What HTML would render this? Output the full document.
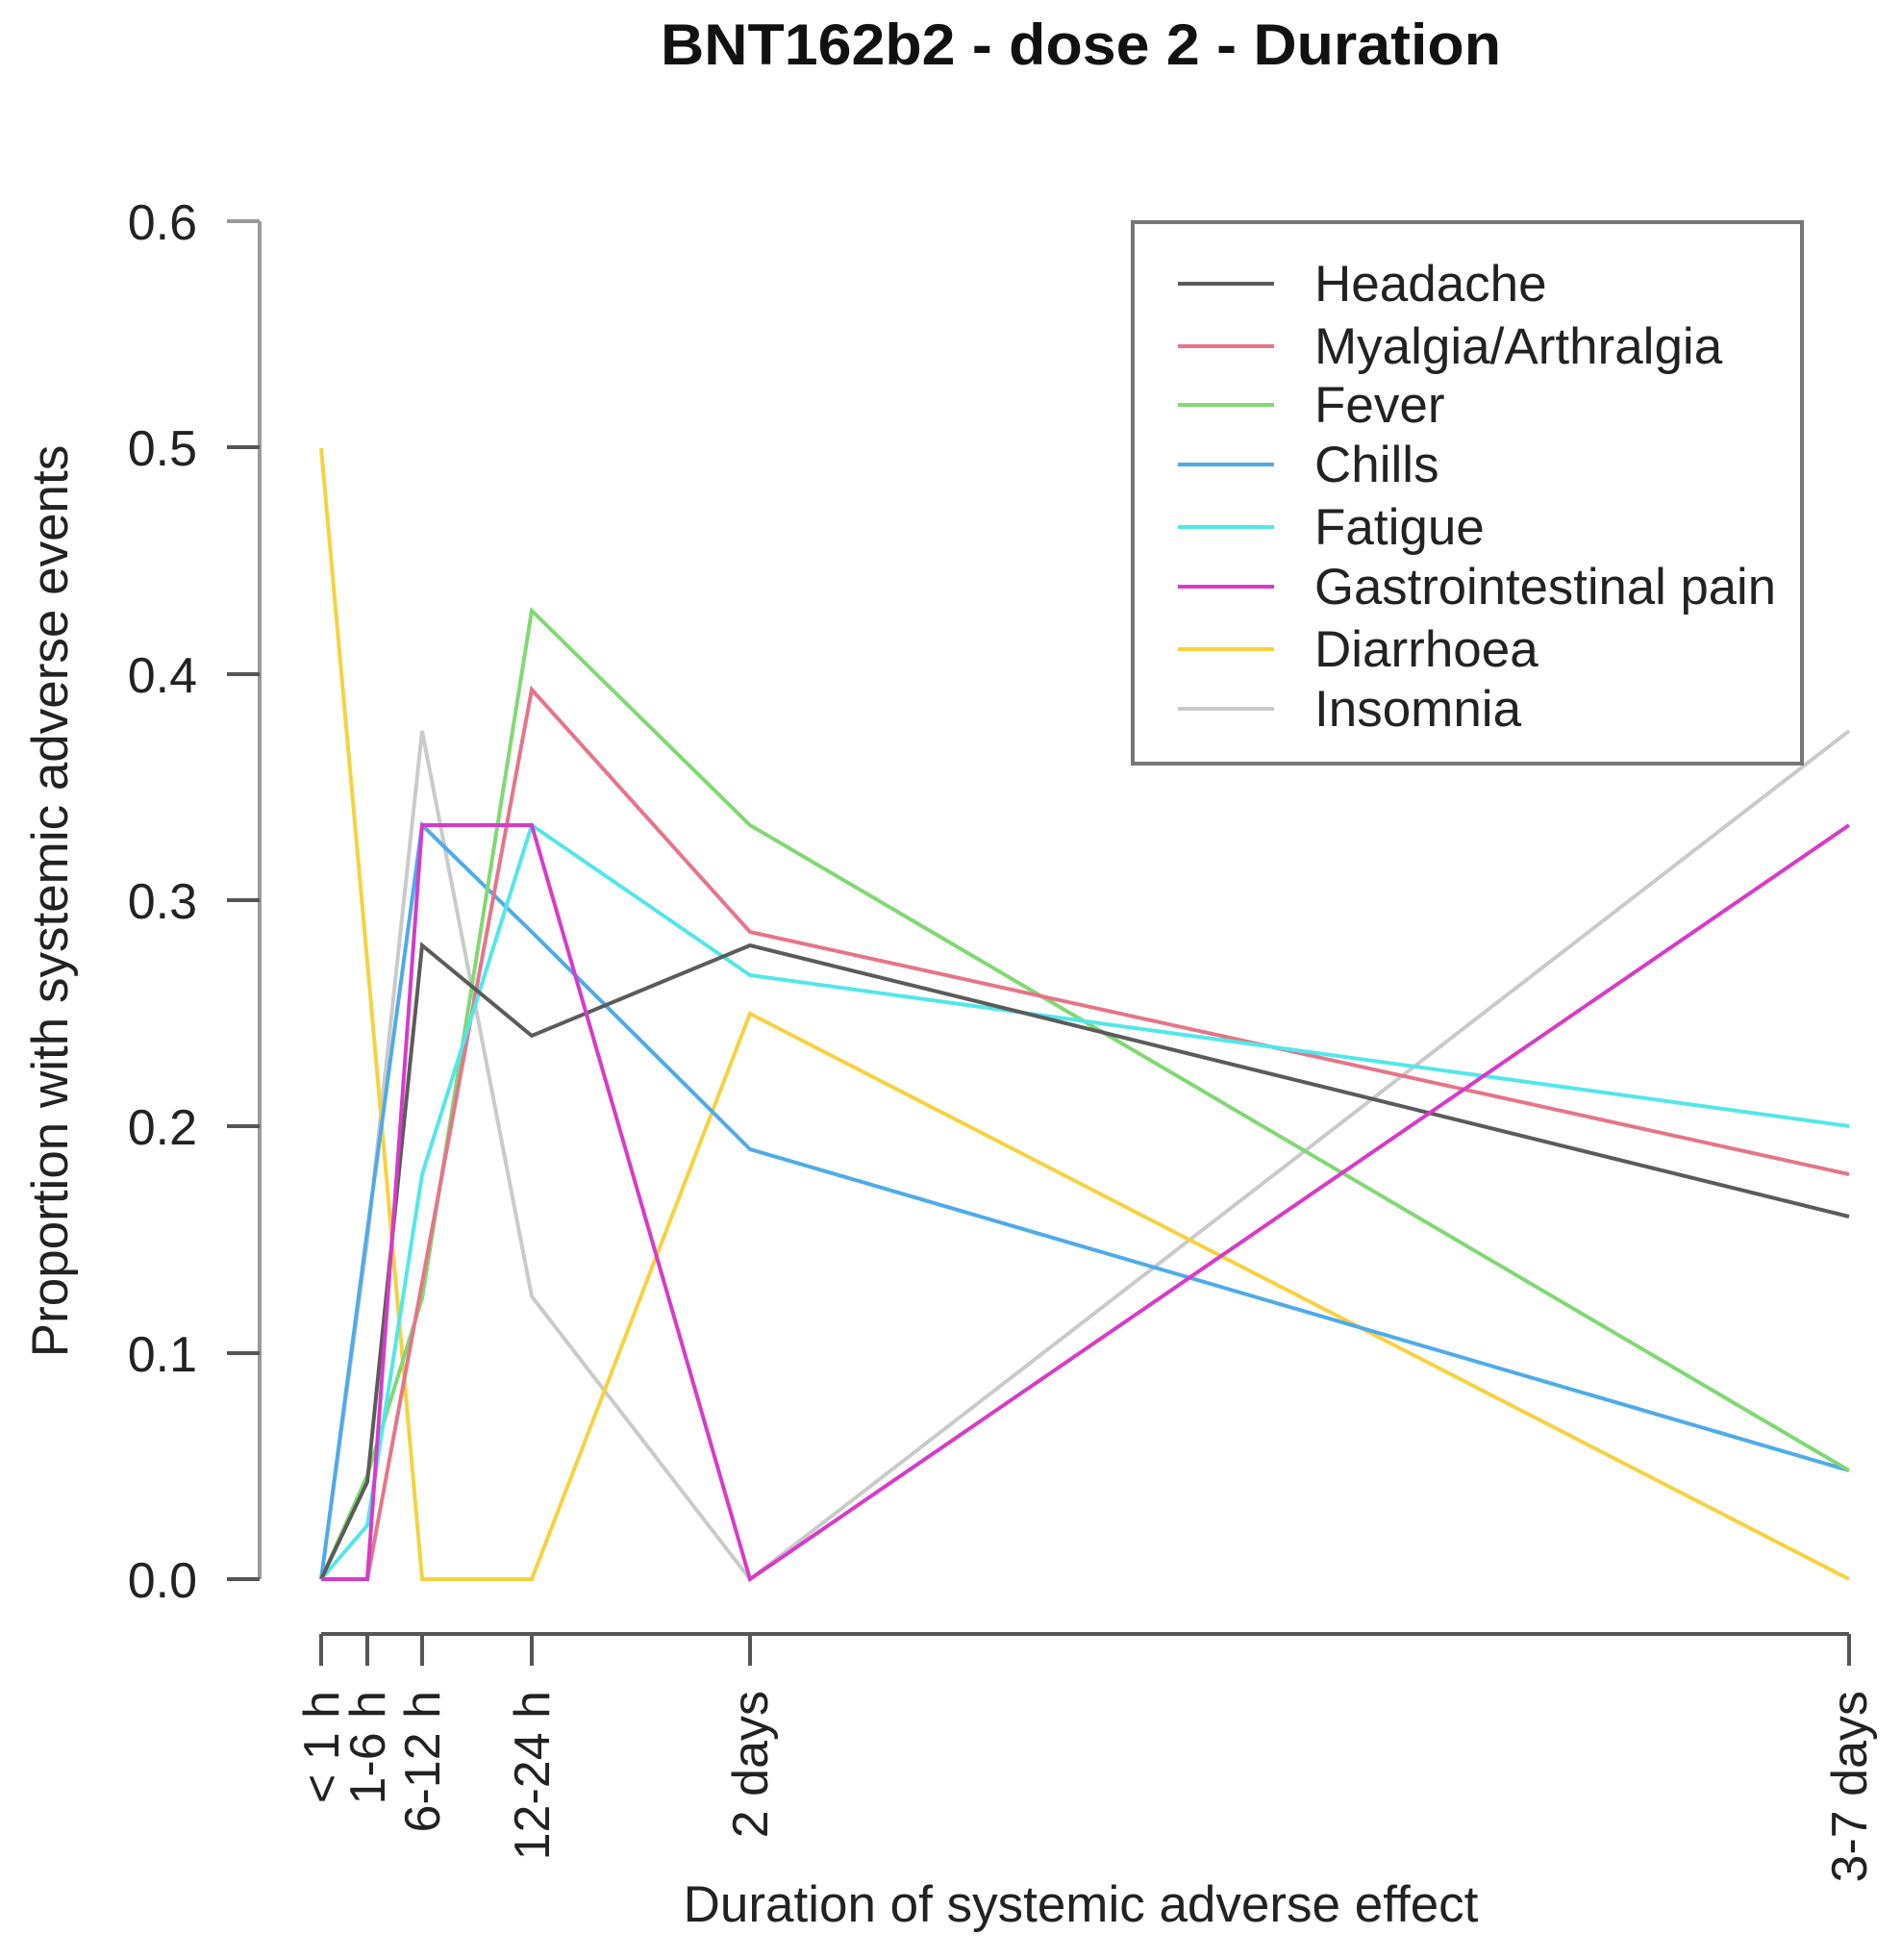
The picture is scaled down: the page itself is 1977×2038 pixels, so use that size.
<!DOCTYPE html>
<html><head><meta charset="utf-8"><style>
html,body{margin:0;padding:0;background:#fff;}
svg{display:block;font-family:"Liberation Sans",Arial,sans-serif;}
</style></head><body>
<svg width="1977" height="2038" viewBox="0 0 1977 2038" xmlns="http://www.w3.org/2000/svg">
<rect width="1977" height="2038" fill="#fff"/>
<text x="1124" y="67" font-size="60" font-weight="bold" text-anchor="middle" fill="#111" textLength="874" lengthAdjust="spacingAndGlyphs">BNT162b2 - dose 2 - Duration</text>

<g stroke="#9a9a9a" stroke-width="4" fill="none">
<line x1="270" y1="230" x2="270" y2="1642"/>
</g>
<g stroke="#555" stroke-width="4">
<line x1="236" y1="230" x2="270" y2="230" stroke="#999"/>
<line x1="236" y1="465" x2="270" y2="465"/>
<line x1="236" y1="701" x2="270" y2="701"/>
<line x1="236" y1="936" x2="270" y2="936"/>
<line x1="236" y1="1171" x2="270" y2="1171"/>
<line x1="236" y1="1407" x2="270" y2="1407"/>
<line x1="236" y1="1642" x2="270" y2="1642"/>
</g>
<g font-size="52" fill="#222" text-anchor="end">
<text x="205" y="249">0.6</text>
<text x="205" y="484">0.5</text>
<text x="205" y="720">0.4</text>
<text x="205" y="955">0.3</text>
<text x="205" y="1190">0.2</text>
<text x="205" y="1426">0.1</text>
<text x="205" y="1661">0.0</text>
</g>
<text transform="translate(70,937) rotate(-90)" font-size="53" text-anchor="middle" fill="#222">Proportion with systemic adverse events</text>

<g stroke="#555" stroke-width="4">
<line x1="334" y1="1699" x2="1923" y2="1699"/>
<line x1="334" y1="1699" x2="334" y2="1732"/>
<line x1="382" y1="1699" x2="382" y2="1732"/>
<line x1="439" y1="1699" x2="439" y2="1732"/>
<line x1="553" y1="1699" x2="553" y2="1732"/>
<line x1="780" y1="1699" x2="780" y2="1732"/>
<line x1="1923" y1="1699" x2="1923" y2="1732"/>
</g>
<g font-size="52" fill="#222" text-anchor="end">
<text transform="translate(352,1758) rotate(-90)">&lt; 1 h</text>
<text transform="translate(400,1758) rotate(-90)">1-6 h</text>
<text transform="translate(457,1758) rotate(-90)">6-12 h</text>
<text transform="translate(571,1758) rotate(-90)">12-24 h</text>
<text transform="translate(798,1758) rotate(-90)">2 days</text>
<text transform="translate(1941,1758) rotate(-90)">3-7 days</text>
</g>
<text x="1124" y="1998" font-size="53" text-anchor="middle" fill="#222">Duration of systemic adverse effect</text>

<g fill="none" stroke-width="4" stroke-linejoin="miter" opacity="0.8">
<polyline stroke="#bdbdbd" points="334,1642 382,1290 439,760 553,1348 780,1642 1923,760"/>
<polyline stroke="#F5C710" points="334,466 382,1000 439,1642 553,1642 780,1054 1923,1642"/>
<polyline stroke="#2297E6" points="334,1642 382,1280 439,858 553,969 780,1195 1923,1529"/>
<polyline stroke="#61D04F" points="334,1642 382,1534 439,1350 553,635 780,858 1923,1529"/>
<polyline stroke="#DF536B" points="334,1642 382,1642 553,717 780,969 1923,1221"/>
<polyline stroke="#28E2E5" points="334,1642 382,1586 439,1221 553,858 780,1014 1923,1171"/>
<polyline stroke="#333" points="334,1642 382,1541 439,983 553,1077 780,983 1923,1265"/>
<polyline stroke="#CD0BBC" points="334,1642 382,1642 439,858 553,858 780,1642 1923,858"/>
</g>

<rect x="1178" y="231" width="696" height="563" fill="none" stroke="#777" stroke-width="4"/>
<g stroke-width="4" opacity="0.8">
<line x1="1225" y1="295" x2="1325" y2="295" stroke="#333"/>
<line x1="1225" y1="360" x2="1325" y2="360" stroke="#DF536B"/>
<line x1="1225" y1="421" x2="1325" y2="421" stroke="#61D04F"/>
<line x1="1225" y1="483" x2="1325" y2="483" stroke="#2297E6"/>
<line x1="1225" y1="548" x2="1325" y2="548" stroke="#28E2E5"/>
<line x1="1225" y1="610" x2="1325" y2="610" stroke="#CD0BBC"/>
<line x1="1225" y1="675" x2="1325" y2="675" stroke="#F5C710"/>
<line x1="1225" y1="737" x2="1325" y2="737" stroke="#bdbdbd"/>
</g>
<g font-size="53" fill="#222">
<text x="1367" y="313">Headache</text>
<text x="1367" y="378">Myalgia/Arthralgia</text>
<text x="1367" y="439">Fever</text>
<text x="1367" y="501">Chills</text>
<text x="1367" y="566">Fatigue</text>
<text x="1367" y="628" textLength="480" lengthAdjust="spacingAndGlyphs">Gastrointestinal pain</text>
<text x="1367" y="693">Diarrhoea</text>
<text x="1367" y="755">Insomnia</text>
</g>
</svg>
</body></html>
